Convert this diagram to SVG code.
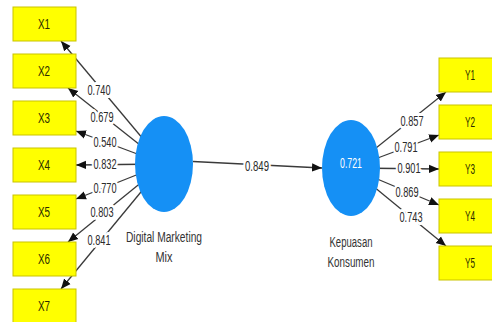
<svg xmlns="http://www.w3.org/2000/svg" width="492" height="322" viewBox="0 0 492 322">
  <style>
    .box { fill: #ffff00; stroke: #c9c300; stroke-width: 1; }
    .boxtxt { font-family: "Liberation Sans", Arial, sans-serif; font-size: 14px; fill: #2b2b00; text-anchor: middle; }
    .lv { fill: #1590f5; }
    .lvtxt { font-family: "Liberation Sans", Arial, sans-serif; font-size: 14px; fill: #333; text-anchor: middle; }
    .r2 { font-family: "Liberation Sans", Arial, sans-serif; font-size: 14px; fill: #ffffff; text-anchor: middle; }
    .edge { stroke: #3a3a3a; stroke-width: 1.3; fill: none; marker-end: url(#arrow); }
    .num { font-family: "Liberation Sans", Arial, sans-serif; font-size: 14px; fill: #2a2a2a; text-anchor: middle; stroke: #ffffff; stroke-width: 6; stroke-linejoin: round; paint-order: stroke; }
  </style>
  <defs>
    <marker id="arrow" markerUnits="userSpaceOnUse" markerWidth="10" markerHeight="10" viewBox="0 0 10 10" refX="10" refY="5" orient="auto">
      <path d="M0,0.8 L10,5 L0,9.2 Z" fill="#111"/>
    </marker>
  </defs>
  <rect width="492" height="322" fill="#ffffff"/>

  <!-- connectors: outer loadings and the structural path -->
  <g id="connectors">
    <line class="edge" x1="164" y1="164" x2="61" y2="41"/>
    <line class="edge" x1="164" y1="164" x2="68" y2="88"/>
    <line class="edge" x1="164" y1="164" x2="76" y2="131"/>
    <line class="edge" x1="164" y1="164" x2="76" y2="165"/>
    <line class="edge" x1="164" y1="164" x2="76" y2="199"/>
    <line class="edge" x1="164" y1="164" x2="68" y2="242"/>
    <line class="edge" x1="164" y1="164" x2="61" y2="289"/>

    <line class="edge" x1="193" y1="161.5" x2="322" y2="168"/>

    <line class="edge" x1="351" y1="168" x2="446" y2="92"/>
    <line class="edge" x1="351" y1="168" x2="439" y2="135"/>
    <line class="edge" x1="351" y1="168" x2="439" y2="169"/>
    <line class="edge" x1="351" y1="168" x2="439" y2="205"/>
    <line class="edge" x1="351" y1="168" x2="446" y2="246"/>

    <text class="num" x="99" y="95" textLength="23" lengthAdjust="spacingAndGlyphs">0.740</text>
    <text class="num" x="102" y="122" textLength="23" lengthAdjust="spacingAndGlyphs">0.679</text>
    <text class="num" x="105" y="147" textLength="23" lengthAdjust="spacingAndGlyphs">0.540</text>
    <text class="num" x="105" y="169" textLength="23" lengthAdjust="spacingAndGlyphs">0.832</text>
    <text class="num" x="105" y="193" textLength="23" lengthAdjust="spacingAndGlyphs">0.770</text>
    <text class="num" x="102" y="217" textLength="23" lengthAdjust="spacingAndGlyphs">0.803</text>
    <text class="num" x="99" y="245" textLength="23" lengthAdjust="spacingAndGlyphs">0.841</text>

    <text class="num" x="257" y="171" textLength="24" lengthAdjust="spacingAndGlyphs">0.849</text>

    <text class="num" x="412" y="126" textLength="23" lengthAdjust="spacingAndGlyphs">0.857</text>
    <text class="num" x="406" y="152" textLength="23" lengthAdjust="spacingAndGlyphs">0.791</text>
    <text class="num" x="409" y="173" textLength="23" lengthAdjust="spacingAndGlyphs">0.901</text>
    <text class="num" x="407" y="197" textLength="23" lengthAdjust="spacingAndGlyphs">0.869</text>
    <text class="num" x="411" y="222" textLength="23" lengthAdjust="spacingAndGlyphs">0.743</text>
  </g>

  <!-- indicator boxes, Digital Marketing Mix -->
  <g id="X1"><rect class="box" x="13" y="7" width="63" height="34"/><text class="boxtxt" x="44" y="29" textLength="12" lengthAdjust="spacingAndGlyphs">X1</text></g>
  <g id="X2"><rect class="box" x="13" y="54" width="63" height="34"/><text class="boxtxt" x="44" y="76" textLength="12" lengthAdjust="spacingAndGlyphs">X2</text></g>
  <g id="X3"><rect class="box" x="13" y="101" width="63" height="34"/><text class="boxtxt" x="44" y="123" textLength="12" lengthAdjust="spacingAndGlyphs">X3</text></g>
  <g id="X4"><rect class="box" x="13" y="148" width="63" height="34"/><text class="boxtxt" x="44" y="170" textLength="12" lengthAdjust="spacingAndGlyphs">X4</text></g>
  <g id="X5"><rect class="box" x="13" y="195" width="63" height="34"/><text class="boxtxt" x="44" y="217" textLength="12" lengthAdjust="spacingAndGlyphs">X5</text></g>
  <g id="X6"><rect class="box" x="13" y="242" width="63" height="34"/><text class="boxtxt" x="44" y="264" textLength="12" lengthAdjust="spacingAndGlyphs">X6</text></g>
  <g id="X7"><rect class="box" x="13" y="289" width="63" height="34"/><text class="boxtxt" x="44" y="311" textLength="12" lengthAdjust="spacingAndGlyphs">X7</text></g>

  <!-- indicator boxes, Kepuasan Konsumen -->
  <g id="Y1"><rect class="box" x="439" y="58" width="63" height="34"/><text class="boxtxt" x="470" y="80" textLength="10" lengthAdjust="spacingAndGlyphs">Y1</text></g>
  <g id="Y2"><rect class="box" x="439" y="105" width="63" height="34"/><text class="boxtxt" x="470" y="127" textLength="10" lengthAdjust="spacingAndGlyphs">Y2</text></g>
  <g id="Y3"><rect class="box" x="439" y="152" width="63" height="34"/><text class="boxtxt" x="470" y="174" textLength="10" lengthAdjust="spacingAndGlyphs">Y3</text></g>
  <g id="Y4"><rect class="box" x="439" y="199" width="63" height="34"/><text class="boxtxt" x="470" y="221" textLength="10" lengthAdjust="spacingAndGlyphs">Y4</text></g>
  <g id="Y5"><rect class="box" x="439" y="246" width="63" height="34"/><text class="boxtxt" x="470" y="268" textLength="10" lengthAdjust="spacingAndGlyphs">Y5</text></g>

  <!-- latent variables -->
  <g id="DigitalMarketingMix">
    <ellipse class="lv" cx="164" cy="164" rx="29" ry="48"/>
    <text class="lvtxt" x="164" y="242" textLength="76" lengthAdjust="spacingAndGlyphs">Digital Marketing</text>
    <text class="lvtxt" x="164" y="262" textLength="17" lengthAdjust="spacingAndGlyphs">Mix</text>
  </g>
  <g id="KepuasanKonsumen">
    <ellipse class="lv" cx="351" cy="168" rx="29" ry="48"/>
    <text class="r2" x="351" y="168" textLength="22" lengthAdjust="spacingAndGlyphs">0.721</text>
    <text class="lvtxt" x="351" y="247" textLength="43" lengthAdjust="spacingAndGlyphs">Kepuasan</text>
    <text class="lvtxt" x="351" y="267" textLength="47" lengthAdjust="spacingAndGlyphs">Konsumen</text>
  </g>
</svg>
